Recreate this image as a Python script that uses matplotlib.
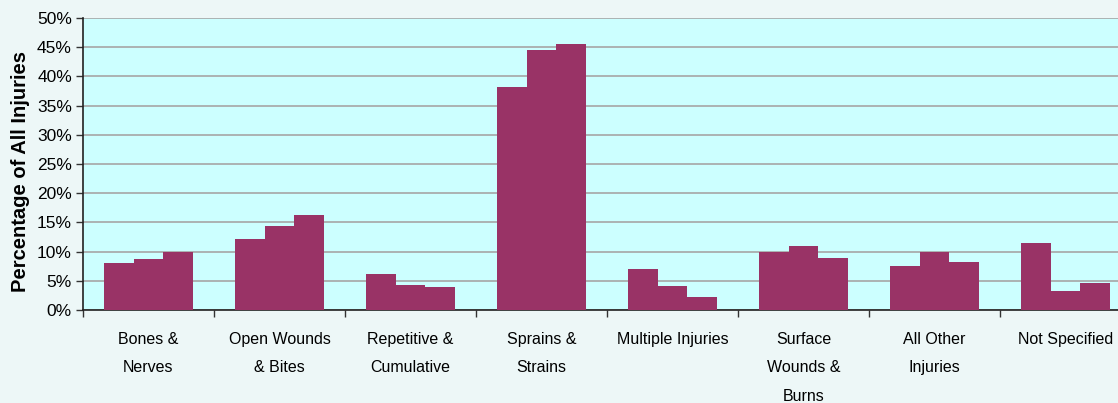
import matplotlib
matplotlib.use("Agg")
import matplotlib.pyplot as plt
import numpy as np

categories = ["Bones &\nNerves", "Open Wounds\n& Bites", "Repetitive &\nCumulative",
              "Sprains &\nStrains", "Multiple Injuries", "Surface\nWounds &\nBurns",
              "All Other\nInjuries", "Not Specified"]
series_a = [8.0, 12.1, 6.1, 38.2, 7.0, 10.0, 7.6, 11.4]
series_b = [8.8, 14.3, 4.3, 44.5, 4.1, 11.0, 9.9, 3.2]
series_c = [9.9, 16.2, 4.0, 45.5, 2.2, 8.9, 8.3, 4.7]
y_ticks = [0, 5, 10, 15, 20, 25, 30, 35, 40, 45, 50]

bar_color = "#993366"
plt.rcParams["font.family"] = ["Liberation Sans", "DejaVu Sans"]

W, H = 1118, 403
fig = plt.figure(figsize=(W / 100, H / 100), dpi=100, facecolor="#EDF7F7")
ax = fig.add_axes([83 / W, 1 - 310 / H, 1048 / W, 292 / H])
ax.set_facecolor("#CCFFFF")

x = np.arange(len(categories))
bw = 0.2265
for off, vals in zip((-bw, 0, bw), (series_a, series_b, series_c)):
    ax.bar(x + off, vals, width=bw, color=bar_color, linewidth=0, zorder=3)

ax.set_xlim(-0.5, len(categories) - 0.5)
ax.set_ylim(0, 50)
ax.set_yticks(y_ticks)
ax.set_yticklabels([f"{t}%" for t in y_ticks], fontsize=12.5)
ax.yaxis.grid(True, color="#A6A6A6", linewidth=1.2, zorder=1)
ax.set_axisbelow(True)

ax.set_xticks(np.arange(len(categories) + 1) - 0.5)
ax.set_xticklabels([])
ax.set_xticks(x, minor=True)
ax.set_xticklabels(categories, minor=True, fontsize=11.5, linespacing=2.15,
                   va="top")
ax.tick_params(axis="x", which="minor", length=0, pad=15.5)
ax.tick_params(axis="x", which="major", length=5, width=1, color="#333333")
ax.tick_params(axis="y", length=5, width=1, color="#333333", pad=3)

for s in ("top", "right"):
    ax.spines[s].set_visible(False)
for s in ("left", "bottom"):
    ax.spines[s].set_color("#222222")
    ax.spines[s].set_linewidth(1.2)

ax.set_ylabel("Percentage of All Injuries", fontsize=14.5, fontweight="bold")
ax.yaxis.set_label_coords(-0.0505, 0.476)

fig.savefig("out.png", dpi=100, facecolor=fig.get_facecolor())
